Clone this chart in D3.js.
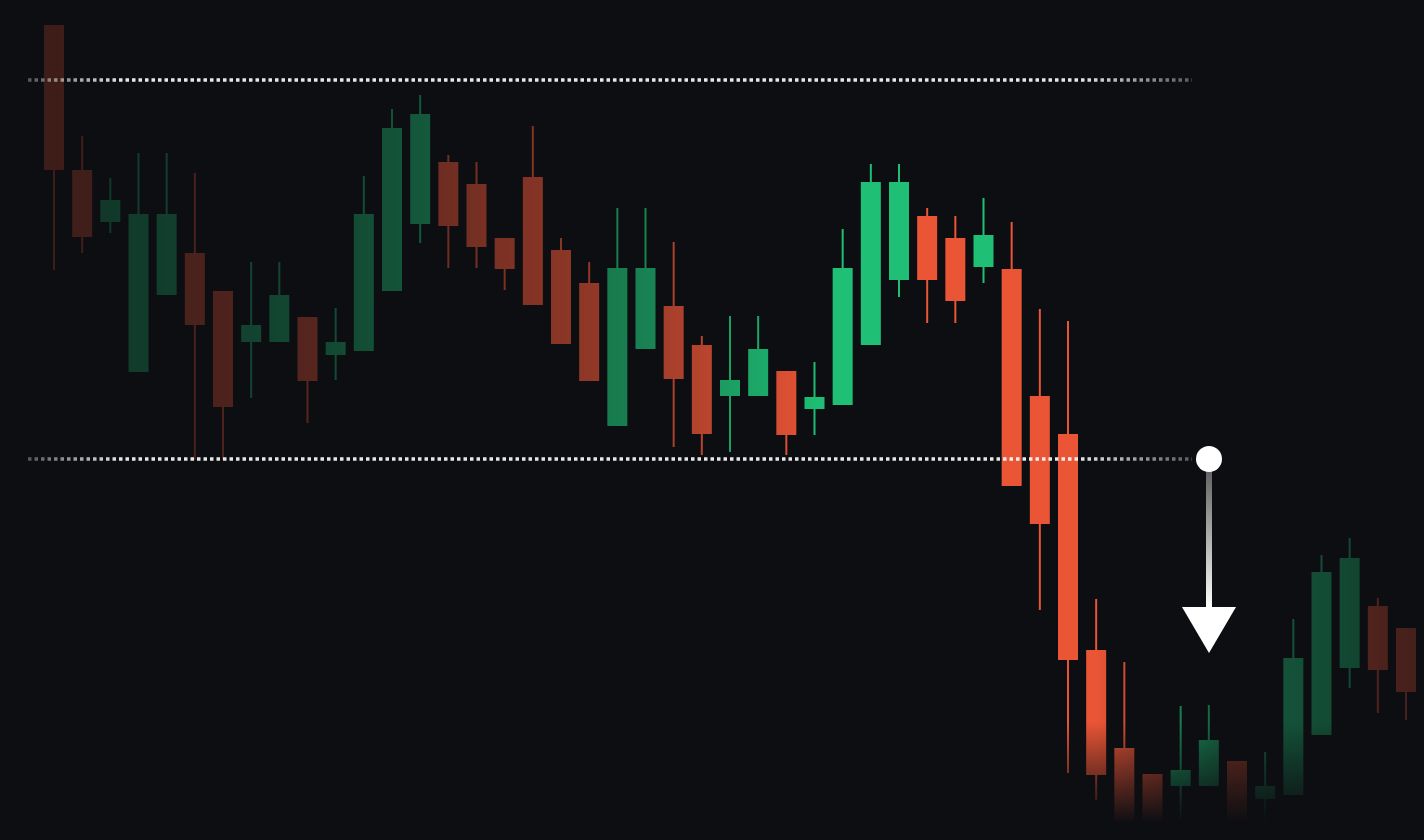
<!DOCTYPE html>
<html><head><meta charset="utf-8">
<script src="https://cdn.jsdelivr.net/npm/d3@7"></script>
<style>html,body{margin:0;background:#0d0e12;}svg{display:block}</style>
</head><body>
<svg id="c" width="1424" height="840"></svg>
<script>
// price data (arbitrary units)
const idx = d3.range(49);
const opens  = [25,170,222,372,295,253,291,342,342,317,355,351,291,224,162,184,238,177,250,283,426,349,306,345,396,396,371,409,405,345,280,216,238,267,269,396,434,650,748,774,786,786,761,799,795,735,668,606,628].map(v=>100-v/8.4);
const closes = [170,237,200,214,214,325,407,325,295,381,342,214,128,114,226,247,269,305,344,381,268,268,379,434,380,349,435,397,268,182,182,280,301,235,486,524,660,775,830,830,770,740,830,786,658,572,558,670,692].map(v=>100-v/8.4);
const highs  = [25,136,178,153,153,173,291,262,262,317,308,176,109,95,155,162,238,126,238,262,208,208,242,336,316,316,371,362,229,164,164,208,216,198,222,309,321,599,662,774,706,705,761,752,619,555,538,598,628].map(v=>100-v/8.4);
const lows   = [270,253,233,372,295,460,460,398,342,423,380,351,291,243,268,268,290,305,344,381,426,349,447,455,452,396,455,435,405,345,297,323,323,283,486,610,773,800,840,840,840,786,840,840,795,735,688,713,720].map(v=>100-v/8.4);
const levels = [100-80/8.4, 100-459/8.4];
const gridPrices = [100-60/8.4,100-239/8.4,100-418/8.4,100-598/8.4,100-777/8.4];

const W=1424,H=840;
const svg=d3.select("#c");
const x=d3.scaleBand().domain(idx).range([44,1416]).paddingInner(0.29);
const y=d3.scaleLinear().domain([0,100]).range([H,0]);
const defs=svg.append("defs");

// grid
const gg=defs.append("linearGradient").attr("id","gridG");
[[0,0],[0.15,1],[0.9,1],[1,0]].forEach(s=>gg.append("stop").attr("offset",s[0]).attr("stop-color","#25282e").attr("stop-opacity",s[1]));
svg.append("g").selectAll("line").data(gridPrices).join("line")
 .attr("x1",0).attr("x2",W).attr("y1",d=>y(d)).attr("y2",d=>y(d))
 .attr("stroke","url(#gridG)").attr("stroke-width",1.2);

// masks
const hg=defs.append("linearGradient").attr("id","hG");
[[0,0.2],[0.25,0.35],[0.45,0.65],[0.58,1],[0.77,1],[0.86,0.45],[1,0.25]].forEach(s=>hg.append("stop").attr("offset",s[0]).attr("stop-color","#fff").attr("stop-opacity",s[1]));
const vg=defs.append("linearGradient").attr("id","vG").attr("gradientUnits","userSpaceOnUse").attr("x1",0).attr("x2",0).attr("y1",0).attr("y2",H);
[[0,1],[0.86,1],[0.98,0]].forEach(s=>vg.append("stop").attr("offset",s[0]).attr("stop-color","#fff").attr("stop-opacity",s[1]));
defs.append("mask").attr("id","mH").attr("maskUnits","userSpaceOnUse").attr("x",0).attr("y",0).attr("width",W).attr("height",H)
 .append("rect").attr("width",W).attr("height",H).attr("fill","url(#hG)");
defs.append("mask").attr("id","mV").attr("maskUnits","userSpaceOnUse").attr("x",0).attr("y",0).attr("width",W).attr("height",H)
 .append("rect").attr("width",W).attr("height",H).attr("fill","url(#vG)");

const outer=svg.append("g").attr("mask","url(#mV)");
const g=outer.append("g").attr("mask","url(#mH)");
const up="#1fbf75", dn="#ea5536";
idx.forEach(i=>{
  const c = closes[i]>=opens[i]?up:dn;
  const cx=x(i)+x.bandwidth()/2;
  g.append("line").attr("x1",cx).attr("x2",cx).attr("y1",y(highs[i])).attr("y2",y(lows[i])).attr("stroke",c).attr("stroke-width",2);
  g.append("rect").attr("x",x(i)).attr("width",x.bandwidth())
   .attr("y",y(Math.max(opens[i],closes[i]))).attr("height",Math.max(2,Math.abs(y(opens[i])-y(closes[i])))).attr("fill",c);
});

// dotted levels
const dg=defs.append("linearGradient").attr("id","dG").attr("gradientUnits","userSpaceOnUse").attr("x1",28).attr("x2",1195);
[[0,0.3],[0.08,0.9],[0.9,0.9],[1,0.3]].forEach(s=>dg.append("stop").attr("offset",s[0]).attr("stop-color","#fff").attr("stop-opacity",s[1]));
svg.append("g").selectAll("line").data(levels).join("line")
 .attr("x1",28).attr("x2",1192).attr("y1",d=>y(d)).attr("y2",d=>y(d))
 .attr("stroke","url(#dG)").attr("stroke-width",3.5).attr("stroke-dasharray","3.5 3");

// arrow
const ax=1209, ay=y(levels[1]);
const ag=defs.append("linearGradient").attr("id","aG").attr("gradientUnits","userSpaceOnUse").attr("x1",0).attr("x2",0).attr("y1",ay).attr("y2",ay+150);
[[0,"#555"],[1,"#fff"]].forEach(s=>ag.append("stop").attr("offset",s[0]).attr("stop-color",s[1]));
svg.append("line").attr("x1",ax).attr("x2",ax).attr("y1",ay+10).attr("y2",ay+155).attr("stroke","url(#aG)").attr("stroke-width",6);
svg.append("path").attr("d",`M${ax-27},${ay+148} L${ax+27},${ay+148} L${ax},${ay+194} Z`).attr("fill","#fff");
svg.append("circle").attr("cx",ax).attr("cy",ay).attr("r",13).attr("fill","#fff");
</script>
</body></html>
